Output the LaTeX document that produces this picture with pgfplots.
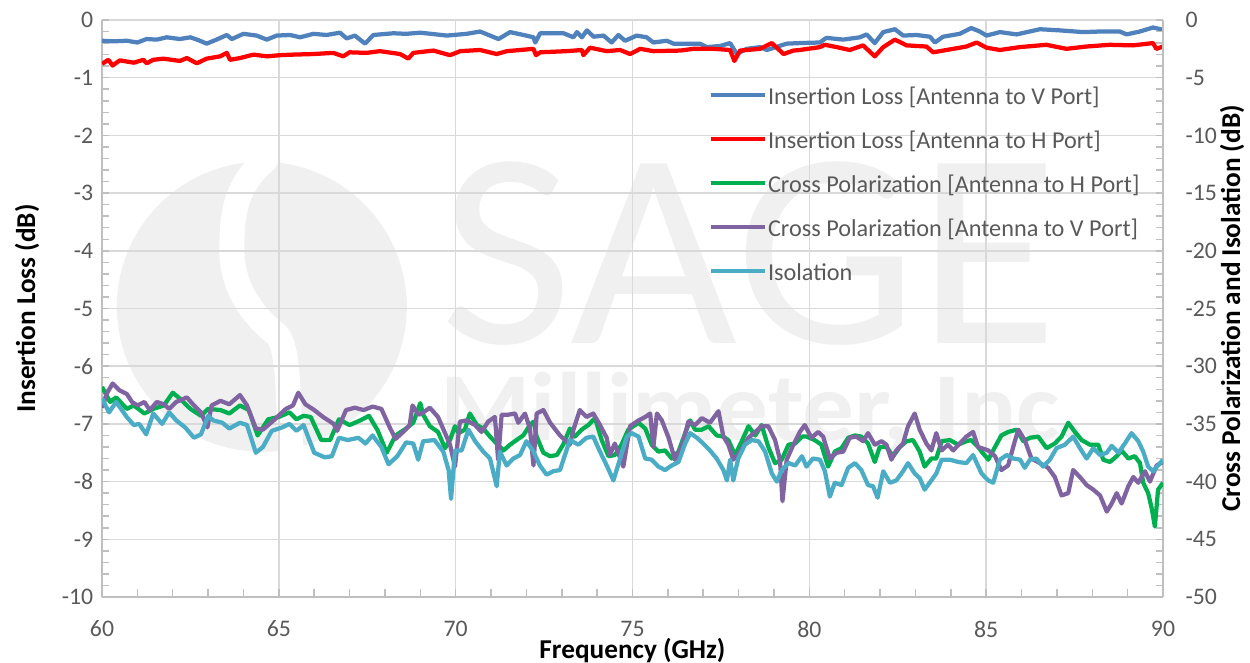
\documentclass[border=0pt]{standalone}
\usepackage{pgfplots}
\pgfplotsset{compat=1.18}
\usepackage{fontspec}
\setmainfont{Carlito}
\usepackage{graphicx}
\definecolor{ilv}{HTML}{4F81BD}
\definecolor{ilh}{HTML}{FF0000}
\definecolor{xph}{HTML}{00B050}
\definecolor{xpv}{HTML}{8064A2}
\definecolor{iso}{HTML}{4BACC6}
\definecolor{axgray}{HTML}{BFBFBF}
\definecolor{gridgray}{HTML}{D9D9D9}
\definecolor{labgray}{HTML}{595959}
\definecolor{wm}{HTML}{F0F0F0}
\pgfplotsset{
  common/.style={scale only axis, width=424.4pt, height=230.8pt, xmin=60, xmax=90},
  every axis plot/.append style={mark=none, line width=1.7pt, line join=round},
}
\begin{document}
\begin{tikzpicture}
% watermark (behind grid)
\begin{axis}[common, ymin=-10, ymax=0, hide axis, clip=false]
\coordinate (c) at (axis cs:64.52,-4.97);
\fill[wm] (c) circle[radius=58pt];
\draw[white, line width=10pt, line cap=round] (c) ++(1.6pt,58.8pt) .. controls +(-12pt,-10pt) and +(0pt,15pt) .. ++(-13.6pt,-36pt) .. controls +(0pt,-15pt) and +(-10pt,8pt) .. ++(18pt,-34pt) .. controls +(6pt,-6pt) and +(-2pt,10pt) .. ++(6pt,-47pt);
\node[anchor=base west, inner sep=0pt, text=wm] at (axis cs:69.56,-5.60) {\scalebox{1.03}[1]{\fontsize{112}{112}\selectfont SAGE}};
\node[anchor=base west, inner sep=0pt, text=wm] at (axis cs:69.56,-7.28) {\scalebox{1.06}[1]{\fontsize{39}{39}\selectfont\bfseries Millimeter, Inc.}};
\end{axis}
% main axis
\begin{axis}[common, ymin=-10, ymax=0,
  axis x line*=bottom, axis y line*=left,
  axis line style={-, draw=axgray, line width=0.8pt},
  xtick={60,65,...,90}, ytick={-10,-9,...,0},
  minor x tick num=4, minor y tick num=4,
  tick align=inside, major tick length=3pt, minor tick length=3pt,
  tick style={draw=axgray, line width=0.6pt},
  grid=major, major grid style={draw=gridgray, line width=0.6pt},
  tick label style={font=\fontsize{9.5}{11}\selectfont, text=labgray},
  xticklabel style={yshift=-6pt},
  /pgf/number format/assume math mode=true,
  xlabel={Frequency (GHz)}, ylabel={Insertion Loss (dB)},
  label style={font=\bfseries\fontsize{10.9}{12}\selectfont, text=black},
  xlabel style={at={(axis description cs:0.5,-0.0936)}, anchor=center},
  ylabel style={at={(axis description cs:-0.0707,0.5)}, anchor=center},
]
\coordinate (bl) at (rel axis cs:0,0);
\coordinate (tr) at (rel axis cs:1,1);
\addplot[ilv] coordinates {
(60.00,-0.36) (60.30,-0.37) (60.70,-0.36) (61.00,-0.39) (61.26,-0.33) (61.55,-0.34) (61.83,-0.30) (62.20,-0.33) (62.50,-0.30) (62.77,-0.36) (62.96,-0.41) (63.24,-0.34) (63.53,-0.26) (63.67,-0.33) (64.00,-0.24) (64.37,-0.27) (64.66,-0.34) (64.94,-0.27) (65.32,-0.26) (65.60,-0.30) (65.98,-0.24) (66.35,-0.26) (66.73,-0.22) (66.92,-0.32) (67.15,-0.27) (67.44,-0.41) (67.67,-0.26) (68.24,-0.23) (68.60,-0.24) (69.00,-0.22) (69.75,-0.27) (70.31,-0.24) (70.69,-0.20) (70.93,-0.26) (71.21,-0.33) (71.54,-0.21) (71.92,-0.26) (72.20,-0.30) (72.25,-0.39) (72.39,-0.23) (73.05,-0.23) (73.33,-0.30) (73.43,-0.21) (73.57,-0.30) (73.71,-0.18) (73.90,-0.29) (74.18,-0.27) (74.41,-0.39) (74.60,-0.26) (74.79,-0.36) (75.12,-0.27) (75.40,-0.30) (75.59,-0.39) (75.97,-0.36) (76.16,-0.41) (76.54,-0.41) (76.91,-0.41) (77.10,-0.47) (77.48,-0.45) (77.76,-0.40) (77.95,-0.59) (78.23,-0.50) (78.61,-0.47) (78.80,-0.52) (79.36,-0.41) (79.74,-0.40) (80.30,-0.39) (80.48,-0.31) (80.96,-0.34) (81.43,-0.30) (81.62,-0.25) (81.85,-0.40) (82.09,-0.21) (82.42,-0.16) (82.65,-0.27) (83.03,-0.26) (83.41,-0.29) (83.55,-0.39) (83.78,-0.29) (84.25,-0.24) (84.58,-0.14) (84.82,-0.20) (85.01,-0.27) (85.39,-0.21) (85.86,-0.25) (86.52,-0.16) (87.08,-0.18) (87.74,-0.21) (88.21,-0.20) (88.78,-0.20) (88.97,-0.25) (89.34,-0.20) (89.72,-0.13) (90.00,-0.17)
};
\addplot[ilh] coordinates {
(60.00,-0.76) (60.18,-0.69) (60.30,-0.79) (60.50,-0.70) (60.90,-0.74) (61.17,-0.69) (61.26,-0.75) (61.45,-0.69) (61.73,-0.67) (62.20,-0.71) (62.40,-0.66) (62.68,-0.75) (62.96,-0.67) (63.34,-0.63) (63.53,-0.57) (63.62,-0.69) (63.90,-0.66) (64.28,-0.60) (64.66,-0.63) (65.03,-0.61) (65.41,-0.60) (65.98,-0.59) (66.54,-0.57) (66.82,-0.63) (67.00,-0.56) (67.48,-0.57) (67.86,-0.54) (68.43,-0.59) (68.66,-0.67) (68.80,-0.57) (69.37,-0.53) (69.84,-0.61) (70.13,-0.54) (70.69,-0.52) (71.16,-0.59) (71.45,-0.54) (72.20,-0.50) (72.27,-0.61) (72.39,-0.56) (73.14,-0.54) (73.57,-0.52) (73.61,-0.61) (73.80,-0.48) (74.27,-0.54) (74.65,-0.52) (74.93,-0.59) (75.22,-0.50) (75.59,-0.54) (76.35,-0.53) (76.72,-0.50) (77.29,-0.50) (77.76,-0.52) (77.88,-0.71) (78.04,-0.53) (78.61,-0.50) (78.94,-0.40) (79.27,-0.59) (79.55,-0.53) (79.73,-0.52) (80.30,-0.47) (80.44,-0.43) (80.77,-0.47) (81.14,-0.52) (81.52,-0.44) (81.85,-0.63) (82.09,-0.47) (82.42,-0.34) (82.75,-0.44) (83.31,-0.46) (83.50,-0.56) (83.88,-0.52) (84.44,-0.46) (84.73,-0.39) (85.01,-0.48) (85.39,-0.52) (85.95,-0.47) (86.70,-0.43) (87.27,-0.50) (87.83,-0.46) (88.49,-0.43) (89.15,-0.44) (89.72,-0.40) (89.81,-0.50) (90.00,-0.46)
};
\end{axis}
% secondary axis
\begin{axis}[common, ymin=-50, ymax=0,
  hide x axis, axis y line*=right,
  axis line style={-, draw=axgray, line width=0.8pt},
  ytick={-50,-45,...,0}, minor y tick num=4,
  tick align=inside, major tick length=3pt, minor tick length=3pt,
  tick style={draw=axgray, line width=0.6pt},
  tick label style={font=\fontsize{9.5}{11}\selectfont, text=labgray},
  yticklabel style={xshift=5.5pt},
  /pgf/number format/assume math mode=true,
  ylabel={Cross Polarization and Isolation (dB)},
  label style={font=\bfseries\fontsize{10.9}{12}\selectfont, text=black},
  ylabel style={at={(axis description cs:1.065,0.5)}, anchor=center},
  legend cell align=left,
  legend image code/.code={\draw[#1] (0pt,0.9pt) -- (21.6pt,0.9pt);},
  legend style={at={(0.5712,0.8873)}, anchor=north west, draw=none, fill=none,
    inner sep=0pt, row sep=8.1pt, column sep=0.5pt,
    font=\fontsize{9.7}{12}\selectfont, text=labgray,
    nodes={inner sep=0pt, text height=7.5pt, text depth=2pt}},
]
\addlegendimage{ilv, line width=1.7pt}
\addlegendentry{Insertion Loss [Antenna to V Port]}
\addlegendimage{ilh, line width=1.7pt}
\addlegendentry{Insertion Loss [Antenna to H Port]}
\addplot[xph] coordinates {
(60.00,-31.8) (60.23,-33.1) (60.40,-32.7) (60.70,-33.7) (60.90,-33.4) (61.20,-34.1) (61.45,-33.7) (61.75,-33.4) (62.00,-32.3) (62.20,-32.8) (62.50,-33.7) (62.80,-34.3) (63.00,-33.7) (63.35,-33.8) (63.60,-34.1) (63.90,-33.4) (64.15,-33.8) (64.40,-36.0) (64.70,-34.6) (65.00,-34.4) (65.30,-34.0) (65.50,-34.6) (65.70,-34.3) (65.90,-34.4) (66.20,-36.4) (66.45,-36.4) (66.70,-34.6) (67.00,-35.1) (67.30,-34.7) (67.55,-34.3) (67.80,-35.6) (68.05,-37.5) (68.30,-36.0) (68.60,-35.4) (68.80,-34.9) (69.00,-33.2) (69.08,-34.2) (69.27,-35.2) (69.50,-35.7) (69.70,-37.1) (69.84,-36.4) (69.98,-35.2) (70.08,-35.8) (70.26,-35.5) (70.40,-34.1) (70.60,-35.1) (70.78,-35.4) (70.97,-36.1) (71.16,-36.7) (71.35,-37.3) (71.54,-36.8) (71.72,-36.4) (71.91,-36.0) (72.10,-35.1) (72.20,-34.8) (72.29,-36.1) (72.48,-37.5) (72.67,-37.8) (72.86,-37.7) (73.04,-36.8) (73.23,-35.4) (73.37,-36.1) (73.56,-35.5) (73.75,-35.1) (73.94,-34.5) (74.13,-36.4) (74.32,-37.8) (74.50,-37.7) (74.69,-36.8) (74.88,-35.5) (75.17,-34.9) (75.36,-35.4) (75.54,-36.8) (75.73,-37.4) (75.92,-37.3) (76.11,-38.0) (76.30,-37.4) (76.49,-35.8) (76.63,-34.7) (76.77,-35.5) (76.96,-35.5) (77.15,-35.2) (77.38,-36.0) (77.57,-36.1) (77.71,-36.4) (77.90,-37.7) (78.09,-36.5) (78.28,-35.2) (78.47,-36.0) (78.65,-35.1) (78.84,-37.0) (79.03,-38.4) (79.22,-38.1) (79.41,-36.8) (79.60,-36.7) (79.79,-36.1) (79.92,-36.1) (80.15,-36.4) (80.34,-36.8) (80.53,-38.7) (80.72,-37.4) (80.91,-37.1) (81.10,-36.2) (81.29,-36.0) (81.47,-36.1) (81.66,-36.7) (81.85,-38.3) (81.99,-37.0) (82.18,-37.0) (82.37,-37.8) (82.56,-37.0) (82.75,-36.5) (82.93,-36.4) (83.12,-37.4) (83.26,-38.7) (83.45,-38.0) (83.59,-38.0) (83.74,-36.5) (83.97,-36.4) (84.21,-36.8) (84.44,-36.5) (84.58,-36.4) (84.77,-37.0) (84.87,-37.4) (85.06,-38.1) (85.25,-37.0) (85.43,-36.0) (85.62,-35.7) (85.86,-35.5) (86.05,-36.5) (86.24,-36.2) (86.47,-36.1) (86.71,-37.1) (86.94,-36.7) (87.13,-36.1) (87.32,-34.9) (87.51,-35.7) (87.70,-36.4) (87.93,-36.8) (88.17,-36.8) (88.31,-38.1) (88.50,-38.3) (88.69,-37.8) (88.83,-37.3) (89.02,-38.0) (89.20,-37.8) (89.35,-38.4) (89.44,-40.1) (89.58,-41.0) (89.68,-42.3) (89.77,-43.9) (89.86,-40.7) (90.00,-40.1)
};
\addlegendentry{Cross Polarization [Antenna to H Port]}
\addplot[xpv] coordinates {
(60.00,-33.6) (60.13,-32.4) (60.30,-31.5) (60.50,-32.1) (60.70,-32.4) (60.85,-33.1) (61.00,-33.4) (61.20,-33.1) (61.35,-33.8) (61.55,-33.1) (61.75,-33.3) (61.90,-33.7) (62.10,-33.1) (62.40,-32.7) (62.60,-33.4) (62.80,-34.0) (62.98,-35.3) (63.10,-33.4) (63.35,-33.0) (63.60,-33.3) (63.90,-32.5) (64.10,-33.4) (64.35,-35.4) (64.55,-35.5) (64.85,-34.7) (65.20,-33.7) (65.40,-33.4) (65.55,-32.3) (65.75,-33.3) (66.00,-33.8) (66.25,-34.4) (66.55,-35.0) (66.65,-35.6) (66.90,-33.8) (67.15,-33.6) (67.40,-33.8) (67.65,-33.5) (67.90,-33.7) (68.15,-35.4) (68.30,-36.3) (68.55,-35.6) (68.70,-35.1) (68.78,-33.4) (68.95,-34.2) (69.04,-34.1) (69.27,-33.6) (69.50,-34.4) (69.70,-35.8) (69.84,-36.8) (69.98,-38.7) (70.12,-34.8) (70.31,-34.7) (70.55,-35.1) (70.73,-35.7) (70.92,-34.8) (71.11,-34.4) (71.20,-38.1) (71.30,-34.2) (71.49,-34.2) (71.68,-34.1) (71.77,-34.9) (71.96,-34.1) (72.10,-35.4) (72.20,-38.6) (72.29,-34.1) (72.48,-33.8) (72.67,-34.9) (72.95,-36.0) (73.09,-36.4) (73.23,-36.8) (73.33,-35.5) (73.51,-33.8) (73.70,-34.4) (73.89,-34.1) (74.08,-35.1) (74.27,-36.2) (74.36,-37.7) (74.50,-36.7) (74.74,-38.7) (74.93,-35.2) (75.17,-34.7) (75.36,-34.4) (75.50,-34.1) (75.59,-37.0) (75.69,-34.1) (75.83,-34.7) (76.02,-36.2) (76.20,-38.1) (76.39,-37.0) (76.58,-34.8) (76.77,-35.1) (76.96,-34.5) (77.19,-34.9) (77.43,-33.9) (77.57,-36.1) (77.71,-36.8) (77.85,-38.1) (78.04,-37.4) (78.28,-36.2) (78.47,-35.7) (78.65,-35.2) (78.84,-35.2) (79.03,-36.4) (79.17,-38.1) (79.24,-41.7) (79.36,-38.1) (79.55,-36.8) (79.73,-35.7) (79.87,-35.1) (80.06,-36.2) (80.25,-35.7) (80.39,-36.1) (80.58,-38.0) (80.77,-37.5) (80.96,-37.4) (81.14,-36.2) (81.33,-36.1) (81.52,-36.5) (81.66,-35.8) (81.85,-36.8) (82.04,-36.5) (82.18,-36.8) (82.32,-38.1) (82.46,-37.3) (82.65,-36.7) (82.79,-35.2) (82.98,-34.1) (83.12,-35.5) (83.31,-36.7) (83.45,-37.3) (83.59,-35.8) (83.74,-37.3) (83.92,-36.8) (84.07,-37.3) (84.25,-36.7) (84.44,-36.1) (84.63,-35.7) (84.77,-37.0) (84.87,-37.1) (85.06,-37.3) (85.25,-37.8) (85.43,-39.0) (85.62,-38.6) (85.81,-36.5) (85.91,-35.5) (86.09,-36.4) (86.28,-38.0) (86.52,-38.4) (86.75,-38.8) (86.94,-39.6) (87.13,-41.2) (87.32,-41.0) (87.46,-39.0) (87.65,-39.6) (87.84,-40.3) (88.03,-40.7) (88.22,-41.2) (88.41,-42.6) (88.55,-41.9) (88.69,-41.0) (88.83,-41.9) (89.02,-40.4) (89.16,-39.6) (89.30,-40.1) (89.49,-39.1) (89.63,-40.0) (89.82,-38.6) (90.00,-38.3)
};
\addlegendentry{Cross Polarization [Antenna to V Port]}
\addplot[iso] coordinates {
(60.00,-32.8) (60.20,-34.0) (60.40,-33.1) (60.70,-34.4) (60.90,-35.1) (61.05,-35.0) (61.25,-35.9) (61.45,-34.1) (61.70,-35.0) (61.90,-34.0) (62.10,-34.7) (62.35,-35.3) (62.60,-36.2) (62.80,-35.9) (63.00,-34.3) (63.15,-34.7) (63.40,-34.9) (63.60,-35.4) (63.90,-34.9) (64.10,-35.1) (64.35,-37.5) (64.55,-37.0) (64.80,-35.6) (65.10,-35.3) (65.30,-35.0) (65.50,-35.6) (65.70,-35.1) (66.00,-37.5) (66.30,-37.9) (66.50,-37.8) (66.70,-36.2) (66.95,-36.4) (67.25,-36.2) (67.45,-36.7) (67.65,-36.0) (67.90,-37.0) (68.10,-38.5) (68.35,-37.8) (68.60,-36.6) (68.80,-36.7) (68.94,-38.1) (69.08,-36.5) (69.40,-36.4) (69.65,-37.4) (69.80,-39.0) (69.87,-41.5) (69.98,-37.3) (70.17,-37.3) (70.36,-35.5) (70.55,-36.5) (70.78,-37.4) (70.97,-38.0) (71.16,-40.4) (71.25,-37.4) (71.44,-38.6) (71.63,-38.0) (71.82,-37.7) (72.00,-36.5) (72.20,-37.4) (72.38,-38.6) (72.57,-39.4) (72.76,-39.1) (72.95,-39.0) (73.09,-37.7) (73.23,-36.4) (73.47,-36.8) (73.70,-36.2) (73.89,-36.1) (74.08,-37.4) (74.27,-38.6) (74.46,-39.9) (74.65,-38.0) (74.84,-36.1) (74.98,-35.8) (75.17,-36.1) (75.36,-38.0) (75.54,-38.1) (75.73,-38.7) (75.92,-39.0) (76.11,-38.6) (76.30,-38.3) (76.49,-36.7) (76.63,-35.8) (76.82,-36.2) (77.00,-36.7) (77.19,-37.3) (77.38,-38.0) (77.57,-39.0) (77.67,-39.9) (77.76,-38.1) (77.85,-39.9) (77.99,-38.0) (78.18,-36.8) (78.37,-36.4) (78.56,-36.5) (78.75,-37.4) (78.94,-39.3) (79.08,-40.0) (79.22,-39.0) (79.41,-38.4) (79.60,-38.6) (79.79,-37.8) (79.92,-38.7) (80.10,-38.0) (80.30,-38.1) (80.44,-39.1) (80.58,-41.3) (80.72,-40.1) (80.91,-40.3) (81.10,-38.8) (81.29,-38.4) (81.47,-39.0) (81.66,-40.3) (81.80,-40.4) (81.93,-41.4) (82.09,-39.1) (82.28,-40.1) (82.46,-39.9) (82.65,-39.1) (82.79,-38.4) (82.98,-39.3) (83.12,-39.7) (83.26,-40.7) (83.45,-39.9) (83.59,-39.3) (83.74,-38.1) (83.97,-38.1) (84.21,-38.3) (84.44,-38.4) (84.63,-37.7) (84.75,-38.5) (84.87,-39.3) (85.06,-39.9) (85.20,-40.1) (85.39,-38.1) (85.58,-37.7) (85.77,-38.0) (85.96,-38.1) (86.09,-38.8) (86.24,-38.1) (86.42,-38.0) (86.61,-38.7) (86.80,-38.1) (86.99,-37.1) (87.23,-36.8) (87.46,-36.1) (87.65,-37.1) (87.84,-38.0) (88.03,-37.1) (88.22,-37.7) (88.41,-37.5) (88.55,-36.9) (88.74,-37.5) (88.92,-36.7) (89.11,-35.8) (89.30,-36.5) (89.44,-37.4) (89.58,-38.7) (89.72,-39.1) (89.86,-38.6) (90.00,-38.1)
};
\addlegendentry{Isolation}
\end{axis}
\pgfresetboundingbox
\path ([xshift=-40.8pt, yshift=-26pt]bl) rectangle ([xshift=34.8pt, yshift=8pt]tr);
\end{tikzpicture}
\end{document}
